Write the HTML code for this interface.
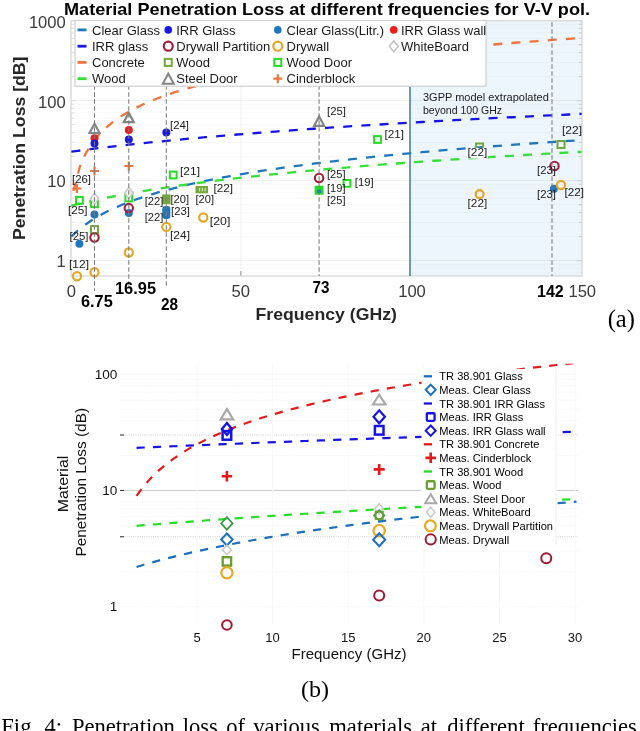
<!DOCTYPE html>
<html><head><meta charset="utf-8"><style>
html,body{margin:0;padding:0;background:#fff;width:640px;height:731px;overflow:hidden}
svg{display:block;filter:blur(0.4px)}
</style></head><body>
<svg width="640" height="731" viewBox="0 0 640 731">
<rect width="640" height="731" fill="#fff"/>
<rect x="410" y="20.8" width="172.0" height="255.2" fill="#edf5fd"/>
<line x1="71.0" x2="582.0" y1="260.60" y2="260.60" stroke="#000" stroke-opacity="0.065" stroke-width="1"/>
<line x1="71.0" x2="582.0" y1="236.52" y2="236.52" stroke="#000" stroke-opacity="0.03" stroke-width="1"/>
<line x1="71.0" x2="582.0" y1="222.43" y2="222.43" stroke="#000" stroke-opacity="0.03" stroke-width="1"/>
<line x1="71.0" x2="582.0" y1="212.44" y2="212.44" stroke="#000" stroke-opacity="0.03" stroke-width="1"/>
<line x1="71.0" x2="582.0" y1="204.68" y2="204.68" stroke="#000" stroke-opacity="0.03" stroke-width="1"/>
<line x1="71.0" x2="582.0" y1="198.35" y2="198.35" stroke="#000" stroke-opacity="0.03" stroke-width="1"/>
<line x1="71.0" x2="582.0" y1="192.99" y2="192.99" stroke="#000" stroke-opacity="0.03" stroke-width="1"/>
<line x1="71.0" x2="582.0" y1="188.35" y2="188.35" stroke="#000" stroke-opacity="0.03" stroke-width="1"/>
<line x1="71.0" x2="582.0" y1="184.26" y2="184.26" stroke="#000" stroke-opacity="0.03" stroke-width="1"/>
<line x1="71.0" x2="582.0" y1="180.60" y2="180.60" stroke="#000" stroke-opacity="0.065" stroke-width="1"/>
<line x1="71.0" x2="582.0" y1="156.52" y2="156.52" stroke="#000" stroke-opacity="0.03" stroke-width="1"/>
<line x1="71.0" x2="582.0" y1="142.43" y2="142.43" stroke="#000" stroke-opacity="0.03" stroke-width="1"/>
<line x1="71.0" x2="582.0" y1="132.44" y2="132.44" stroke="#000" stroke-opacity="0.03" stroke-width="1"/>
<line x1="71.0" x2="582.0" y1="124.68" y2="124.68" stroke="#000" stroke-opacity="0.03" stroke-width="1"/>
<line x1="71.0" x2="582.0" y1="118.35" y2="118.35" stroke="#000" stroke-opacity="0.03" stroke-width="1"/>
<line x1="71.0" x2="582.0" y1="112.99" y2="112.99" stroke="#000" stroke-opacity="0.03" stroke-width="1"/>
<line x1="71.0" x2="582.0" y1="108.35" y2="108.35" stroke="#000" stroke-opacity="0.03" stroke-width="1"/>
<line x1="71.0" x2="582.0" y1="104.26" y2="104.26" stroke="#000" stroke-opacity="0.03" stroke-width="1"/>
<line x1="71.0" x2="582.0" y1="100.60" y2="100.60" stroke="#000" stroke-opacity="0.065" stroke-width="1"/>
<line x1="71.0" x2="582.0" y1="76.52" y2="76.52" stroke="#000" stroke-opacity="0.03" stroke-width="1"/>
<line x1="71.0" x2="582.0" y1="62.43" y2="62.43" stroke="#000" stroke-opacity="0.03" stroke-width="1"/>
<line x1="71.0" x2="582.0" y1="52.44" y2="52.44" stroke="#000" stroke-opacity="0.03" stroke-width="1"/>
<line x1="71.0" x2="582.0" y1="44.68" y2="44.68" stroke="#000" stroke-opacity="0.03" stroke-width="1"/>
<line x1="71.0" x2="582.0" y1="38.35" y2="38.35" stroke="#000" stroke-opacity="0.03" stroke-width="1"/>
<line x1="71.0" x2="582.0" y1="32.99" y2="32.99" stroke="#000" stroke-opacity="0.03" stroke-width="1"/>
<line x1="71.0" x2="582.0" y1="28.35" y2="28.35" stroke="#000" stroke-opacity="0.03" stroke-width="1"/>
<line x1="71.0" x2="582.0" y1="24.26" y2="24.26" stroke="#000" stroke-opacity="0.03" stroke-width="1"/>
<line x1="71.0" x2="582.0" y1="272.99" y2="272.99" stroke="#000" stroke-opacity="0.03" stroke-width="1"/>
<line x1="71.0" x2="582.0" y1="268.35" y2="268.35" stroke="#000" stroke-opacity="0.03" stroke-width="1"/>
<line x1="71.0" x2="582.0" y1="264.26" y2="264.26" stroke="#000" stroke-opacity="0.03" stroke-width="1"/>
<line x1="240.90" x2="240.90" y1="20.8" y2="276.0" stroke="#efefef" stroke-width="0.8"/>
<line x1="240.90" x2="240.90" y1="271.0" y2="276.0" stroke="#909090" stroke-width="1"/>
<rect x="71.0" y="20.8" width="511.0" height="255.2" fill="none" stroke="#d4d4d4" stroke-width="1.2"/>
<line x1="71.0" x2="76.0" y1="260.60" y2="260.60" stroke="#d8d8d8" stroke-width="0.8"/>
<line x1="582.0" x2="577.0" y1="260.60" y2="260.60" stroke="#c8c8c8" stroke-width="0.8"/>
<line x1="71.0" x2="74.0" y1="236.52" y2="236.52" stroke="#d8d8d8" stroke-width="0.8"/>
<line x1="582.0" x2="579.0" y1="236.52" y2="236.52" stroke="#c8c8c8" stroke-width="0.8"/>
<line x1="71.0" x2="74.0" y1="222.43" y2="222.43" stroke="#d8d8d8" stroke-width="0.8"/>
<line x1="582.0" x2="579.0" y1="222.43" y2="222.43" stroke="#c8c8c8" stroke-width="0.8"/>
<line x1="71.0" x2="74.0" y1="212.44" y2="212.44" stroke="#d8d8d8" stroke-width="0.8"/>
<line x1="582.0" x2="579.0" y1="212.44" y2="212.44" stroke="#c8c8c8" stroke-width="0.8"/>
<line x1="71.0" x2="74.0" y1="204.68" y2="204.68" stroke="#d8d8d8" stroke-width="0.8"/>
<line x1="582.0" x2="579.0" y1="204.68" y2="204.68" stroke="#c8c8c8" stroke-width="0.8"/>
<line x1="71.0" x2="74.0" y1="198.35" y2="198.35" stroke="#d8d8d8" stroke-width="0.8"/>
<line x1="582.0" x2="579.0" y1="198.35" y2="198.35" stroke="#c8c8c8" stroke-width="0.8"/>
<line x1="71.0" x2="74.0" y1="192.99" y2="192.99" stroke="#d8d8d8" stroke-width="0.8"/>
<line x1="582.0" x2="579.0" y1="192.99" y2="192.99" stroke="#c8c8c8" stroke-width="0.8"/>
<line x1="71.0" x2="74.0" y1="188.35" y2="188.35" stroke="#d8d8d8" stroke-width="0.8"/>
<line x1="582.0" x2="579.0" y1="188.35" y2="188.35" stroke="#c8c8c8" stroke-width="0.8"/>
<line x1="71.0" x2="74.0" y1="184.26" y2="184.26" stroke="#d8d8d8" stroke-width="0.8"/>
<line x1="582.0" x2="579.0" y1="184.26" y2="184.26" stroke="#c8c8c8" stroke-width="0.8"/>
<line x1="71.0" x2="76.0" y1="180.60" y2="180.60" stroke="#d8d8d8" stroke-width="0.8"/>
<line x1="582.0" x2="577.0" y1="180.60" y2="180.60" stroke="#c8c8c8" stroke-width="0.8"/>
<line x1="71.0" x2="74.0" y1="156.52" y2="156.52" stroke="#d8d8d8" stroke-width="0.8"/>
<line x1="582.0" x2="579.0" y1="156.52" y2="156.52" stroke="#c8c8c8" stroke-width="0.8"/>
<line x1="71.0" x2="74.0" y1="142.43" y2="142.43" stroke="#d8d8d8" stroke-width="0.8"/>
<line x1="582.0" x2="579.0" y1="142.43" y2="142.43" stroke="#c8c8c8" stroke-width="0.8"/>
<line x1="71.0" x2="74.0" y1="132.44" y2="132.44" stroke="#d8d8d8" stroke-width="0.8"/>
<line x1="582.0" x2="579.0" y1="132.44" y2="132.44" stroke="#c8c8c8" stroke-width="0.8"/>
<line x1="71.0" x2="74.0" y1="124.68" y2="124.68" stroke="#d8d8d8" stroke-width="0.8"/>
<line x1="582.0" x2="579.0" y1="124.68" y2="124.68" stroke="#c8c8c8" stroke-width="0.8"/>
<line x1="71.0" x2="74.0" y1="118.35" y2="118.35" stroke="#d8d8d8" stroke-width="0.8"/>
<line x1="582.0" x2="579.0" y1="118.35" y2="118.35" stroke="#c8c8c8" stroke-width="0.8"/>
<line x1="71.0" x2="74.0" y1="112.99" y2="112.99" stroke="#d8d8d8" stroke-width="0.8"/>
<line x1="582.0" x2="579.0" y1="112.99" y2="112.99" stroke="#c8c8c8" stroke-width="0.8"/>
<line x1="71.0" x2="74.0" y1="108.35" y2="108.35" stroke="#d8d8d8" stroke-width="0.8"/>
<line x1="582.0" x2="579.0" y1="108.35" y2="108.35" stroke="#c8c8c8" stroke-width="0.8"/>
<line x1="71.0" x2="74.0" y1="104.26" y2="104.26" stroke="#d8d8d8" stroke-width="0.8"/>
<line x1="582.0" x2="579.0" y1="104.26" y2="104.26" stroke="#c8c8c8" stroke-width="0.8"/>
<line x1="71.0" x2="76.0" y1="100.60" y2="100.60" stroke="#d8d8d8" stroke-width="0.8"/>
<line x1="582.0" x2="577.0" y1="100.60" y2="100.60" stroke="#c8c8c8" stroke-width="0.8"/>
<line x1="71.0" x2="74.0" y1="76.52" y2="76.52" stroke="#d8d8d8" stroke-width="0.8"/>
<line x1="582.0" x2="579.0" y1="76.52" y2="76.52" stroke="#c8c8c8" stroke-width="0.8"/>
<line x1="71.0" x2="74.0" y1="62.43" y2="62.43" stroke="#d8d8d8" stroke-width="0.8"/>
<line x1="582.0" x2="579.0" y1="62.43" y2="62.43" stroke="#c8c8c8" stroke-width="0.8"/>
<line x1="71.0" x2="74.0" y1="52.44" y2="52.44" stroke="#d8d8d8" stroke-width="0.8"/>
<line x1="582.0" x2="579.0" y1="52.44" y2="52.44" stroke="#c8c8c8" stroke-width="0.8"/>
<line x1="71.0" x2="74.0" y1="44.68" y2="44.68" stroke="#d8d8d8" stroke-width="0.8"/>
<line x1="582.0" x2="579.0" y1="44.68" y2="44.68" stroke="#c8c8c8" stroke-width="0.8"/>
<line x1="71.0" x2="74.0" y1="38.35" y2="38.35" stroke="#d8d8d8" stroke-width="0.8"/>
<line x1="582.0" x2="579.0" y1="38.35" y2="38.35" stroke="#c8c8c8" stroke-width="0.8"/>
<line x1="71.0" x2="74.0" y1="32.99" y2="32.99" stroke="#d8d8d8" stroke-width="0.8"/>
<line x1="582.0" x2="579.0" y1="32.99" y2="32.99" stroke="#c8c8c8" stroke-width="0.8"/>
<line x1="71.0" x2="74.0" y1="28.35" y2="28.35" stroke="#d8d8d8" stroke-width="0.8"/>
<line x1="582.0" x2="579.0" y1="28.35" y2="28.35" stroke="#c8c8c8" stroke-width="0.8"/>
<line x1="71.0" x2="74.0" y1="24.26" y2="24.26" stroke="#d8d8d8" stroke-width="0.8"/>
<line x1="582.0" x2="579.0" y1="24.26" y2="24.26" stroke="#c8c8c8" stroke-width="0.8"/>
<line x1="410" x2="410" y1="20.8" y2="276.0" stroke="#4b7fa6" stroke-width="1.6"/>
<path d="M71.40,236.52 L77.78,230.53 L84.15,225.42 L90.53,220.97 L96.91,217.02 L103.29,213.48 L109.66,210.27 L116.04,207.33 L122.42,204.61 L128.80,202.10 L135.17,199.75 L141.55,197.55 L147.93,195.49 L154.31,193.54 L160.68,191.69 L167.06,189.94 L173.44,188.27 L179.82,186.67 L186.19,185.15 L192.57,183.69 L198.95,182.29 L205.33,180.94 L211.70,179.65 L218.08,178.40 L224.46,177.19 L230.84,176.03 L237.21,174.90 L243.59,173.81 L249.97,172.75 L256.35,171.72 L262.72,170.72 L269.10,169.75 L275.48,168.81 L281.86,167.89 L288.23,167.00 L294.61,166.12 L300.99,165.27 L307.37,164.44 L313.74,163.63 L320.12,162.84 L326.50,162.06 L332.87,161.30 L339.25,160.56 L345.63,159.83 L352.01,159.12 L358.38,158.43 L364.76,157.74 L371.14,157.07 L377.52,156.41 L383.89,155.77 L390.27,155.13 L396.65,154.51 L403.03,153.90 L409.40,153.30 L415.78,152.71 L422.16,152.13 L428.54,151.56 L434.91,150.99 L441.29,150.44 L447.67,149.90 L454.05,149.36 L460.42,148.83 L466.80,148.31 L473.18,147.80 L479.56,147.30 L485.93,146.80 L492.31,146.31 L498.69,145.82 L505.07,145.35 L511.44,144.88 L517.82,144.41 L524.20,143.95 L530.58,143.50 L536.95,143.05 L543.33,142.61 L549.71,142.18 L556.09,141.75 L562.46,141.32 L568.84,140.90 L575.22,140.49 L581.60,140.08" fill="none" stroke="#1f77c0" stroke-width="2.3" stroke-dasharray="9 9.2"/>
<path d="M71.40,151.66 L77.78,150.82 L84.15,150.00 L90.53,149.19 L96.91,148.41 L103.29,147.64 L109.66,146.89 L116.04,146.15 L122.42,145.43 L128.80,144.73 L135.17,144.04 L141.55,143.36 L147.93,142.69 L154.31,142.04 L160.68,141.40 L167.06,140.77 L173.44,140.16 L179.82,139.55 L186.19,138.95 L192.57,138.37 L198.95,137.79 L205.33,137.22 L211.70,136.66 L218.08,136.11 L224.46,135.57 L230.84,135.04 L237.21,134.52 L243.59,134.00 L249.97,133.49 L256.35,132.99 L262.72,132.49 L269.10,132.01 L275.48,131.53 L281.86,131.05 L288.23,130.58 L294.61,130.12 L300.99,129.67 L307.37,129.22 L313.74,128.77 L320.12,128.33 L326.50,127.90 L332.87,127.47 L339.25,127.05 L345.63,126.63 L352.01,126.22 L358.38,125.81 L364.76,125.41 L371.14,125.01 L377.52,124.62 L383.89,124.23 L390.27,123.85 L396.65,123.46 L403.03,123.09 L409.40,122.72 L415.78,122.35 L422.16,121.98 L428.54,121.62 L434.91,121.26 L441.29,120.91 L447.67,120.56 L454.05,120.21 L460.42,119.87 L466.80,119.53 L473.18,119.19 L479.56,118.86 L485.93,118.53 L492.31,118.20 L498.69,117.88 L505.07,117.56 L511.44,117.24 L517.82,116.93 L524.20,116.61 L530.58,116.30 L536.95,116.00 L543.33,115.69 L549.71,115.39 L556.09,115.09 L562.46,114.80 L568.84,114.50 L575.22,114.21 L581.60,113.92" fill="none" stroke="#1414e6" stroke-width="2.3" stroke-dasharray="9 9.2"/>
<path d="M71.40,205.74 L77.78,204.16 L84.15,202.65 L90.53,201.20 L96.91,199.81 L103.29,198.47 L109.66,197.18 L116.04,195.94 L122.42,194.74 L128.80,193.58 L135.17,192.46 L141.55,191.38 L147.93,190.32 L154.31,189.30 L160.68,188.31 L167.06,187.34 L173.44,186.40 L179.82,185.49 L186.19,184.60 L192.57,183.73 L198.95,182.88 L205.33,182.05 L211.70,181.24 L218.08,180.45 L224.46,179.68 L230.84,178.93 L237.21,178.19 L243.59,177.46 L249.97,176.75 L256.35,176.06 L262.72,175.38 L269.10,174.71 L275.48,174.05 L281.86,173.41 L288.23,172.78 L294.61,172.16 L300.99,171.55 L307.37,170.95 L313.74,170.36 L320.12,169.78 L326.50,169.21 L332.87,168.65 L339.25,168.10 L345.63,167.55 L352.01,167.02 L358.38,166.49 L364.76,165.97 L371.14,165.46 L377.52,164.96 L383.89,164.46 L390.27,163.97 L396.65,163.49 L403.03,163.01 L409.40,162.54 L415.78,162.08 L422.16,161.62 L428.54,161.17 L434.91,160.73 L441.29,160.29 L447.67,159.85 L454.05,159.42 L460.42,159.00 L466.80,158.58 L473.18,158.17 L479.56,157.76 L485.93,157.35 L492.31,156.96 L498.69,156.56 L505.07,156.17 L511.44,155.78 L517.82,155.40 L524.20,155.02 L530.58,154.65 L536.95,154.28 L543.33,153.92 L549.71,153.55 L556.09,153.20 L562.46,152.84 L568.84,152.49 L575.22,152.14 L581.60,151.80" fill="none" stroke="#33e033" stroke-width="2.3" stroke-dasharray="9 9.2"/>
<path d="M73.43,191.06 L79.79,166.76 L86.14,152.60 L92.49,142.56 L98.84,134.79 L105.19,128.44 L111.55,123.07 L117.90,118.43 L124.25,114.33 L130.60,110.66 L136.95,107.35 L143.31,104.32 L149.66,101.54 L156.01,98.96 L162.36,96.56 L168.71,94.32 L175.07,92.21 L181.42,90.22 L187.77,88.34 L194.12,86.56 L200.47,84.86 L206.83,83.24 L213.18,81.70 L219.53,80.22 L225.88,78.80 L232.23,77.44 L238.59,76.13 L244.94,74.86 L251.29,73.64 L257.64,72.46 L263.99,71.32 L270.35,70.22 L276.70,69.15 L283.05,68.11 L289.40,67.11 L295.75,66.13 L302.11,65.17 L308.46,64.25 L314.81,63.34 L321.16,62.46 L327.51,61.61 L333.87,60.77 L340.22,59.95 L346.57,59.15 L352.92,58.37 L359.27,57.61 L365.63,56.86 L371.98,56.13 L378.33,55.41 L384.68,54.71 L391.03,54.02 L397.39,53.35 L403.74,52.68 L410.09,52.03 L416.44,51.40 L422.79,50.77 L429.15,50.16 L435.50,49.55 L441.85,48.96 L448.20,48.37 L454.55,47.80 L460.91,47.23 L467.26,46.68 L473.61,46.13 L479.96,45.59 L486.31,45.06 L492.67,44.54 L499.02,44.02 L505.37,43.52 L511.72,43.02 L518.07,42.52 L524.43,42.04 L530.78,41.56 L537.13,41.09 L543.48,40.62 L549.83,40.16 L556.19,39.70 L562.54,39.26 L568.89,38.81 L575.24,38.38 L581.60,37.94" fill="none" stroke="#f0743c" stroke-width="2.3" stroke-dasharray="9 9.2"/>
<path d="M89.50,133.00 L94.50,123.80 L99.50,133.00 Z" fill="none" stroke="#858585" stroke-width="2.2" stroke-linejoin="miter"/>
<path d="M123.80,122.10 L128.80,112.90 L133.80,122.10 Z" fill="none" stroke="#858585" stroke-width="2.2" stroke-linejoin="miter"/>
<path d="M314.10,125.80 L319.10,116.60 L324.10,125.80 Z" fill="none" stroke="#858585" stroke-width="2.2" stroke-linejoin="miter"/>
<circle cx="94.50" cy="138.30" r="4.0" fill="#ee1c1c"/>
<circle cx="128.80" cy="130.00" r="4.0" fill="#ee1c1c"/>
<circle cx="94.50" cy="143.40" r="4.0" fill="#1a1ae6"/>
<circle cx="128.80" cy="139.40" r="4.0" fill="#1a1ae6"/>
<circle cx="166.30" cy="132.50" r="4.0" fill="#1a1ae6"/>
<path d="M72.40,188.50 H81.40 M76.90,184.00 V193.00" stroke="#f0743c" stroke-width="2.2" fill="none"/>
<path d="M90.00,171.00 H99.00 M94.50,166.50 V175.50" stroke="#f0743c" stroke-width="2.2" fill="none"/>
<path d="M124.30,166.00 H133.30 M128.80,161.50 V170.50" stroke="#f0743c" stroke-width="2.2" fill="none"/>
<rect x="76.00" y="196.90" width="6.8" height="6.8" fill="none" stroke="#22dd22" stroke-width="2.0"/>
<rect x="91.10" y="200.35" width="6.8" height="6.8" fill="none" stroke="#22dd22" stroke-width="2.0"/>
<rect x="125.40" y="194.60" width="6.8" height="6.8" fill="none" stroke="#22dd22" stroke-width="2.0"/>
<rect x="169.80" y="171.60" width="6.8" height="6.8" fill="none" stroke="#22dd22" stroke-width="2.0"/>
<rect x="343.60" y="180.00" width="6.8" height="6.8" fill="none" stroke="#22dd22" stroke-width="2.0"/>
<rect x="374.10" y="136.10" width="6.8" height="6.8" fill="none" stroke="#22dd22" stroke-width="2.0"/>
<rect x="315.60" y="186.70" width="7.0" height="7.0" fill="#22dd22" stroke="#22dd22" stroke-width="2.0"/>
<rect x="91.00" y="226.10" width="7.0" height="7.0" fill="none" stroke="#74a83c" stroke-width="2.0"/>
<rect x="476.10" y="143.50" width="7.0" height="7.0" fill="none" stroke="#74a83c" stroke-width="2.0"/>
<rect x="557.50" y="141.00" width="7.0" height="7.0" fill="none" stroke="#74a83c" stroke-width="2.0"/>
<rect x="162.10" y="194.4" width="8.5" height="9.8" fill="#74a83c"/>
<rect x="195.5" y="186" width="12.5" height="7.3" fill="#74a83c"/>
<rect x="199" y="188" width="1.2" height="3.3" fill="#cfe3b5"/>
<rect x="201.8" y="188" width="1.2" height="3.3" fill="#cfe3b5"/>
<rect x="204.6" y="188" width="1.2" height="3.3" fill="#cfe3b5"/>
<circle cx="79.40" cy="243.75" r="4.0" fill="#1f77c0"/>
<circle cx="94.50" cy="214.40" r="4.0" fill="#1f77c0"/>
<circle cx="128.80" cy="213.00" r="4.0" fill="#1f77c0"/>
<circle cx="553.90" cy="188.75" r="4.0" fill="#1f77c0"/>
<rect x="162.30" y="206" width="8" height="13" rx="3" fill="#1f77c0"/>
<circle cx="319.10" cy="191.50" r="2.2" fill="#1f77c0"/>
<circle cx="94.50" cy="237.50" r="4.2" fill="none" stroke="#a3203a" stroke-width="2.1"/>
<circle cx="128.80" cy="208.10" r="4.2" fill="none" stroke="#a3203a" stroke-width="2.1"/>
<circle cx="319.10" cy="178.00" r="4.2" fill="none" stroke="#a3203a" stroke-width="2.1"/>
<circle cx="554.50" cy="166.00" r="4.2" fill="none" stroke="#a3203a" stroke-width="2.1"/>
<path d="M94.50,193.15 L98.70,198.75 L94.50,204.35 L90.30,198.75 Z" fill="#f4f4f4" stroke="#c8c8c8" stroke-width="1.5"/>
<path d="M128.80,187.40 L133.00,193.00 L128.80,198.60 L124.60,193.00 Z" fill="#f4f4f4" stroke="#c8c8c8" stroke-width="1.5"/>
<circle cx="77.00" cy="276.25" r="4.1" fill="none" stroke="#e6a623" stroke-width="2.2"/>
<circle cx="94.50" cy="272.30" r="4.1" fill="none" stroke="#e6a623" stroke-width="2.2"/>
<circle cx="128.80" cy="252.50" r="4.1" fill="none" stroke="#e6a623" stroke-width="2.2"/>
<circle cx="166.30" cy="226.90" r="4.1" fill="none" stroke="#e6a623" stroke-width="2.2"/>
<circle cx="203.30" cy="217.50" r="4.1" fill="none" stroke="#e6a623" stroke-width="2.2"/>
<circle cx="561.00" cy="185.00" r="4.1" fill="none" stroke="#e6a623" stroke-width="2.2"/>
<line x1="94.50" x2="94.50" y1="22.3" y2="291" stroke="#7a7a7a" stroke-width="1.05" stroke-dasharray="4.5 2.5"/>
<line x1="128.80" x2="128.80" y1="22.3" y2="289" stroke="#7a7a7a" stroke-width="1.05" stroke-dasharray="4.5 2.5"/>
<line x1="166.30" x2="166.30" y1="22.3" y2="287.5" stroke="#7a7a7a" stroke-width="1.05" stroke-dasharray="4.5 2.5"/>
<line x1="319.10" x2="319.10" y1="22.3" y2="276.0" stroke="#7a7a7a" stroke-width="1.05" stroke-dasharray="4.5 2.5"/>
<line x1="552.00" x2="552.00" y1="22.3" y2="276.0" stroke="#7a7a7a" stroke-width="1.05" stroke-dasharray="4.5 2.5"/>
<text x="170.00" y="128.50" font-size="11.5" text-anchor="start" font-weight="normal" fill="#1a1a1a" font-family='"Liberation Sans", sans-serif' textLength="19.00" lengthAdjust="spacingAndGlyphs" >[24]</text>
<text x="72.00" y="183.20" font-size="11.5" text-anchor="start" font-weight="normal" fill="#1a1a1a" font-family='"Liberation Sans", sans-serif' textLength="19.00" lengthAdjust="spacingAndGlyphs" >[26]</text>
<text x="68.00" y="214.40" font-size="11.5" text-anchor="start" font-weight="normal" fill="#1a1a1a" font-family='"Liberation Sans", sans-serif' textLength="19.50" lengthAdjust="spacingAndGlyphs" >[25]</text>
<text x="69.50" y="240.00" font-size="11.5" text-anchor="start" font-weight="normal" fill="#1a1a1a" font-family='"Liberation Sans", sans-serif' textLength="19.00" lengthAdjust="spacingAndGlyphs" >[25]</text>
<text x="69.00" y="268.00" font-size="11.5" text-anchor="start" font-weight="normal" fill="#1a1a1a" font-family='"Liberation Sans", sans-serif' textLength="20.00" lengthAdjust="spacingAndGlyphs" >[12]</text>
<text x="180.00" y="174.80" font-size="11.5" text-anchor="start" font-weight="normal" fill="#1a1a1a" font-family='"Liberation Sans", sans-serif' textLength="20.00" lengthAdjust="spacingAndGlyphs" >[21]</text>
<text x="213.40" y="192.40" font-size="11.5" text-anchor="start" font-weight="normal" fill="#1a1a1a" font-family='"Liberation Sans", sans-serif' textLength="19.60" lengthAdjust="spacingAndGlyphs" >[22]</text>
<text x="195.50" y="202.55" font-size="11.5" text-anchor="start" font-weight="normal" fill="#1a1a1a" font-family='"Liberation Sans", sans-serif' textLength="18.50" lengthAdjust="spacingAndGlyphs" >[20]</text>
<text x="144.70" y="204.80" font-size="11.5" text-anchor="start" font-weight="normal" fill="#1a1a1a" font-family='"Liberation Sans", sans-serif' textLength="18.70" lengthAdjust="spacingAndGlyphs" >[22]</text>
<text x="170.50" y="202.55" font-size="11.5" text-anchor="start" font-weight="normal" fill="#1a1a1a" font-family='"Liberation Sans", sans-serif' textLength="18.70" lengthAdjust="spacingAndGlyphs" >[20]</text>
<text x="171.00" y="215.05" font-size="11.5" text-anchor="start" font-weight="normal" fill="#1a1a1a" font-family='"Liberation Sans", sans-serif' textLength="19.00" lengthAdjust="spacingAndGlyphs" >[23]</text>
<text x="144.70" y="221.30" font-size="11.5" text-anchor="start" font-weight="normal" fill="#1a1a1a" font-family='"Liberation Sans", sans-serif' textLength="18.70" lengthAdjust="spacingAndGlyphs" >[22]</text>
<text x="209.80" y="224.80" font-size="11.5" text-anchor="start" font-weight="normal" fill="#1a1a1a" font-family='"Liberation Sans", sans-serif' textLength="20.50" lengthAdjust="spacingAndGlyphs" >[20]</text>
<text x="170.00" y="238.50" font-size="11.5" text-anchor="start" font-weight="normal" fill="#1a1a1a" font-family='"Liberation Sans", sans-serif' textLength="20.00" lengthAdjust="spacingAndGlyphs" >[24]</text>
<text x="327.00" y="114.80" font-size="11.5" text-anchor="start" font-weight="normal" fill="#1a1a1a" font-family='"Liberation Sans", sans-serif' textLength="19.00" lengthAdjust="spacingAndGlyphs" >[25]</text>
<text x="384.50" y="137.55" font-size="11.5" text-anchor="start" font-weight="normal" fill="#1a1a1a" font-family='"Liberation Sans", sans-serif' textLength="19.50" lengthAdjust="spacingAndGlyphs" >[21]</text>
<text x="327.00" y="178.20" font-size="11.5" text-anchor="start" font-weight="normal" fill="#1a1a1a" font-family='"Liberation Sans", sans-serif' textLength="18.50" lengthAdjust="spacingAndGlyphs" >[25]</text>
<text x="327.00" y="191.80" font-size="11.5" text-anchor="start" font-weight="normal" fill="#1a1a1a" font-family='"Liberation Sans", sans-serif' textLength="18.50" lengthAdjust="spacingAndGlyphs" >[19]</text>
<text x="354.80" y="185.70" font-size="11.5" text-anchor="start" font-weight="normal" fill="#1a1a1a" font-family='"Liberation Sans", sans-serif' textLength="18.80" lengthAdjust="spacingAndGlyphs" >[19]</text>
<text x="327.00" y="203.60" font-size="11.5" text-anchor="start" font-weight="normal" fill="#1a1a1a" font-family='"Liberation Sans", sans-serif' textLength="18.50" lengthAdjust="spacingAndGlyphs" >[25]</text>
<text x="562.00" y="134.30" font-size="11.5" text-anchor="start" font-weight="normal" fill="#1a1a1a" font-family='"Liberation Sans", sans-serif' textLength="20.00" lengthAdjust="spacingAndGlyphs" >[22]</text>
<text x="537.00" y="173.80" font-size="11.5" text-anchor="start" font-weight="normal" fill="#1a1a1a" font-family='"Liberation Sans", sans-serif' textLength="19.00" lengthAdjust="spacingAndGlyphs" >[23]</text>
<text x="564.50" y="196.30" font-size="11.5" text-anchor="start" font-weight="normal" fill="#1a1a1a" font-family='"Liberation Sans", sans-serif' textLength="19.50" lengthAdjust="spacingAndGlyphs" >[22]</text>
<text x="537.00" y="197.55" font-size="11.5" text-anchor="start" font-weight="normal" fill="#1a1a1a" font-family='"Liberation Sans", sans-serif' textLength="19.00" lengthAdjust="spacingAndGlyphs" >[23]</text>
<rect x="467.1" y="147.9" width="20.69999999999999" height="10.6" fill="#fafcfe"/>
<text x="467.60" y="156.30" font-size="11.5" text-anchor="start" font-weight="normal" fill="#1a1a1a" font-family='"Liberation Sans", sans-serif' textLength="19.70" lengthAdjust="spacingAndGlyphs" >[22]</text>
<rect x="467.1" y="198.8" width="20.69999999999999" height="10.6" fill="#fafcfe"/>
<text x="467.60" y="207.20" font-size="11.5" text-anchor="start" font-weight="normal" fill="#1a1a1a" font-family='"Liberation Sans", sans-serif' textLength="19.70" lengthAdjust="spacingAndGlyphs" >[22]</text>
<circle cx="479.60" cy="194.10" r="4.0" fill="none" stroke="#e6a623" stroke-width="2.2"/>
<text x="423.00" y="101.00" font-size="11" text-anchor="start" font-weight="normal" fill="#1a1a1a" font-family='"Liberation Sans", sans-serif' >3GPP model extrapolated</text>
<text x="423.00" y="113.50" font-size="11" text-anchor="start" font-weight="normal" fill="#1a1a1a" font-family='"Liberation Sans", sans-serif' textLength="79.00" lengthAdjust="spacingAndGlyphs" >beyond 100 GHz</text>
<rect x="75" y="20.5" width="411" height="65.75" fill="#ffffff" stroke="#cfcfcf" stroke-width="1.2"/>
<rect x="77.5" y="28.5" width="9" height="2.8" fill="#1f77c0"/>
<text x="92.00" y="34.50" font-size="13" text-anchor="start" font-weight="normal" fill="#1a1a1a" font-family='"Liberation Sans", sans-serif' >Clear Glass</text>
<rect x="77.5" y="44.800000000000004" width="9" height="2.8" fill="#1a1ae6"/>
<text x="92.00" y="50.80" font-size="13" text-anchor="start" font-weight="normal" fill="#1a1a1a" font-family='"Liberation Sans", sans-serif' >IRR glass</text>
<rect x="77.5" y="61.0" width="9" height="2.8" fill="#f0743c"/>
<text x="92.00" y="67.00" font-size="13" text-anchor="start" font-weight="normal" fill="#1a1a1a" font-family='"Liberation Sans", sans-serif' >Concrete</text>
<rect x="77.5" y="77.3" width="9" height="2.8" fill="#33e033"/>
<text x="92.00" y="83.30" font-size="13" text-anchor="start" font-weight="normal" fill="#1a1a1a" font-family='"Liberation Sans", sans-serif' >Wood</text>
<circle cx="168.25" cy="29.90" r="3.8" fill="#1a1ae6"/>
<text x="176.25" y="34.50" font-size="13" text-anchor="start" font-weight="normal" fill="#1a1a1a" font-family='"Liberation Sans", sans-serif' >IRR Glass</text>
<circle cx="168.25" cy="46.20" r="4.5" fill="none" stroke="#a3203a" stroke-width="2.2"/>
<text x="176.25" y="50.80" font-size="13" text-anchor="start" font-weight="normal" fill="#1a1a1a" font-family='"Liberation Sans", sans-serif' >Drywall Partition</text>
<rect x="164.75" y="58.90" width="7.0" height="7.0" fill="none" stroke="#74a83c" stroke-width="2.0"/>
<text x="176.25" y="67.00" font-size="13" text-anchor="start" font-weight="normal" fill="#1a1a1a" font-family='"Liberation Sans", sans-serif' >Wood</text>
<path d="M162.75,83.70 L168.25,73.70 L173.75,83.70 Z" fill="none" stroke="#858585" stroke-width="2.0" stroke-linejoin="miter"/>
<text x="176.25" y="83.30" font-size="13" text-anchor="start" font-weight="normal" fill="#1a1a1a" font-family='"Liberation Sans", sans-serif' >Steel Door</text>
<circle cx="277.80" cy="29.90" r="3.8" fill="#1f77c0"/>
<text x="286.50" y="34.50" font-size="13" text-anchor="start" font-weight="normal" fill="#1a1a1a" font-family='"Liberation Sans", sans-serif' >Clear Glass(Litr.)</text>
<circle cx="277.80" cy="46.20" r="4.5" fill="none" stroke="#e6a623" stroke-width="2.2"/>
<text x="286.50" y="50.80" font-size="13" text-anchor="start" font-weight="normal" fill="#1a1a1a" font-family='"Liberation Sans", sans-serif' >Drywall</text>
<rect x="274.30" y="58.90" width="7.0" height="7.0" fill="none" stroke="#22dd22" stroke-width="2.0"/>
<text x="286.50" y="67.00" font-size="13" text-anchor="start" font-weight="normal" fill="#1a1a1a" font-family='"Liberation Sans", sans-serif' >Wood Door</text>
<path d="M273.30,78.70 H282.30 M277.80,74.20 V83.20" stroke="#f0743c" stroke-width="2.2" fill="none"/>
<text x="286.50" y="83.30" font-size="13" text-anchor="start" font-weight="normal" fill="#1a1a1a" font-family='"Liberation Sans", sans-serif' >Cinderblock</text>
<circle cx="393.75" cy="29.90" r="3.8" fill="#ee1c1c"/>
<text x="401.00" y="34.50" font-size="13" text-anchor="start" font-weight="normal" fill="#1a1a1a" font-family='"Liberation Sans", sans-serif' >IRR Glass wall</text>
<path d="M393.75,40.70 L398.25,46.20 L393.75,51.70 L389.25,46.20 Z" fill="none" stroke="#c4c4c4" stroke-width="1.6"/>
<text x="401.00" y="50.80" font-size="13" text-anchor="start" font-weight="normal" fill="#1a1a1a" font-family='"Liberation Sans", sans-serif' >WhiteBoard</text>
<text x="64.00" y="14.60" font-size="17" text-anchor="start" font-weight="bold" fill="#000" font-family='"Liberation Sans", sans-serif' textLength="526.00" lengthAdjust="spacingAndGlyphs" >Material Penetration Loss at different frequencies for V-V pol.</text>
<text x="0" y="0" transform="translate(24.7,148.25) rotate(-90)" font-size="17.4" font-weight="bold" text-anchor="middle" fill="#262626" font-family='"Liberation Sans", sans-serif' textLength="183.5" lengthAdjust="spacingAndGlyphs">Penetration Loss [dB]</text>
<text x="65.80" y="28.00" font-size="16.6" text-anchor="end" font-weight="normal" fill="#3a3a3a" font-family='"Liberation Sans", sans-serif' >1000</text>
<text x="65.80" y="107.80" font-size="16.6" text-anchor="end" font-weight="normal" fill="#3a3a3a" font-family='"Liberation Sans", sans-serif' >100</text>
<text x="65.80" y="187.00" font-size="16.6" text-anchor="end" font-weight="normal" fill="#3a3a3a" font-family='"Liberation Sans", sans-serif' >10</text>
<text x="65.80" y="267.00" font-size="16.6" text-anchor="end" font-weight="normal" fill="#3a3a3a" font-family='"Liberation Sans", sans-serif' >1</text>
<text x="71.25" y="297.20" font-size="16.6" text-anchor="middle" font-weight="normal" fill="#3a3a3a" font-family='"Liberation Sans", sans-serif' >0</text>
<text x="240.75" y="297.20" font-size="16.6" text-anchor="middle" font-weight="normal" fill="#3a3a3a" font-family='"Liberation Sans", sans-serif' >50</text>
<text x="412.00" y="297.20" font-size="16.6" text-anchor="middle" font-weight="normal" fill="#3a3a3a" font-family='"Liberation Sans", sans-serif' >100</text>
<text x="582.25" y="297.20" font-size="16.6" text-anchor="middle" font-weight="normal" fill="#3a3a3a" font-family='"Liberation Sans", sans-serif' >150</text>
<text x="81.00" y="307.40" font-size="16" text-anchor="start" font-weight="bold" fill="#000" font-family='"Liberation Sans", sans-serif' textLength="31.70" lengthAdjust="spacingAndGlyphs" >6.75</text>
<text x="115.00" y="294.10" font-size="16" text-anchor="start" font-weight="bold" fill="#000" font-family='"Liberation Sans", sans-serif' textLength="41.00" lengthAdjust="spacingAndGlyphs" >16.95</text>
<text x="161.00" y="309.70" font-size="16" text-anchor="start" font-weight="bold" fill="#000" font-family='"Liberation Sans", sans-serif' textLength="17.00" lengthAdjust="spacingAndGlyphs" >28</text>
<text x="312.50" y="292.60" font-size="16" text-anchor="start" font-weight="bold" fill="#000" font-family='"Liberation Sans", sans-serif' textLength="16.90" lengthAdjust="spacingAndGlyphs" >73</text>
<text x="537.00" y="296.95" font-size="16" text-anchor="start" font-weight="bold" fill="#000" font-family='"Liberation Sans", sans-serif' textLength="26.75" lengthAdjust="spacingAndGlyphs" >142</text>
<text x="255.50" y="320.20" font-size="17" text-anchor="start" font-weight="bold" fill="#262626" font-family='"Liberation Sans", sans-serif' textLength="141.40" lengthAdjust="spacingAndGlyphs" >Frequency (GHz)</text>
<text x="607.70" y="326.50" font-size="24.5" text-anchor="start" font-weight="normal" fill="#000" font-family='"Liberation Serif", serif' >(a)</text>
<line x1="120.0" x2="578.0" y1="606.75" y2="606.75" stroke="#eeeeee" stroke-width="0.8" stroke-dasharray="1 1.2"/>
<line x1="120.0" x2="578.0" y1="571.76" y2="571.76" stroke="#eeeeee" stroke-width="0.8" stroke-dasharray="1 1.2"/>
<line x1="120.0" x2="578.0" y1="551.28" y2="551.28" stroke="#eeeeee" stroke-width="0.8" stroke-dasharray="1 1.2"/>
<line x1="120.0" x2="578.0" y1="536.76" y2="536.76" stroke="#c4c4c4" stroke-width="0.9" stroke-dasharray="1 1.2"/>
<line x1="120.0" x2="124.0" y1="536.76" y2="536.76" stroke="#333" stroke-width="1"/>
<line x1="120.0" x2="578.0" y1="525.49" y2="525.49" stroke="#eeeeee" stroke-width="0.8" stroke-dasharray="1 1.2"/>
<line x1="120.0" x2="578.0" y1="516.29" y2="516.29" stroke="#eeeeee" stroke-width="0.8" stroke-dasharray="1 1.2"/>
<line x1="120.0" x2="578.0" y1="508.51" y2="508.51" stroke="#eeeeee" stroke-width="0.8" stroke-dasharray="1 1.2"/>
<line x1="120.0" x2="578.0" y1="501.77" y2="501.77" stroke="#eeeeee" stroke-width="0.8" stroke-dasharray="1 1.2"/>
<line x1="120.0" x2="578.0" y1="495.82" y2="495.82" stroke="#eeeeee" stroke-width="0.8" stroke-dasharray="1 1.2"/>
<line x1="120.0" x2="578.0" y1="490.50" y2="490.50" stroke="#cdcdcd" stroke-width="1"/>
<line x1="120.0" x2="578.0" y1="455.51" y2="455.51" stroke="#eeeeee" stroke-width="0.8" stroke-dasharray="1 1.2"/>
<line x1="120.0" x2="578.0" y1="435.03" y2="435.03" stroke="#c4c4c4" stroke-width="0.9" stroke-dasharray="1 1.2"/>
<line x1="120.0" x2="124.0" y1="435.03" y2="435.03" stroke="#333" stroke-width="1"/>
<line x1="120.0" x2="578.0" y1="420.51" y2="420.51" stroke="#eeeeee" stroke-width="0.8" stroke-dasharray="1 1.2"/>
<line x1="120.0" x2="578.0" y1="409.24" y2="409.24" stroke="#eeeeee" stroke-width="0.8" stroke-dasharray="1 1.2"/>
<line x1="120.0" x2="578.0" y1="400.04" y2="400.04" stroke="#eeeeee" stroke-width="0.8" stroke-dasharray="1 1.2"/>
<line x1="120.0" x2="578.0" y1="392.26" y2="392.26" stroke="#eeeeee" stroke-width="0.8" stroke-dasharray="1 1.2"/>
<line x1="120.0" x2="578.0" y1="385.52" y2="385.52" stroke="#eeeeee" stroke-width="0.8" stroke-dasharray="1 1.2"/>
<line x1="120.0" x2="578.0" y1="379.57" y2="379.57" stroke="#eeeeee" stroke-width="0.8" stroke-dasharray="1 1.2"/>
<line x1="120.0" x2="578.0" y1="374.25" y2="374.25" stroke="#eeeeee" stroke-width="0.8" stroke-dasharray="1 1.2"/>
<line x1="197.00" x2="197.00" y1="363.75" y2="625.0" stroke="#f7f7f7" stroke-width="1"/>
<line x1="272.60" x2="272.60" y1="363.75" y2="625.0" stroke="#f7f7f7" stroke-width="1"/>
<line x1="348.20" x2="348.20" y1="363.75" y2="625.0" stroke="#f7f7f7" stroke-width="1"/>
<line x1="423.80" x2="423.80" y1="363.75" y2="625.0" stroke="#f7f7f7" stroke-width="1"/>
<line x1="499.40" x2="499.40" y1="363.75" y2="625.0" stroke="#f7f7f7" stroke-width="1"/>
<line x1="575.00" x2="575.00" y1="363.75" y2="625.0" stroke="#f7f7f7" stroke-width="1"/>
<line x1="120.0" x2="124.0" y1="490.50" y2="490.50" stroke="#333" stroke-width="1"/>
<clipPath id="bclip"><rect x="120.0" y="363.75" width="458.0" height="261.25"/></clipPath>
<g clip-path="url(#bclip)">
<path d="M136.52,566.94 L143.85,564.77 L151.19,562.68 L158.52,560.67 L165.85,558.74 L173.19,556.89 L180.52,555.09 L187.85,553.36 L195.19,551.69 L202.52,550.07 L209.85,548.50 L217.19,546.98 L224.52,545.50 L231.85,544.07 L239.18,542.67 L246.52,541.31 L253.85,539.99 L261.18,538.70 L268.52,537.45 L275.85,536.22 L283.18,535.02 L290.52,533.85 L297.85,532.71 L305.18,531.59 L312.52,530.50 L319.85,529.43 L327.18,528.38 L334.52,527.36 L341.85,526.35 L349.18,525.36 L356.52,524.40 L363.85,523.45 L371.18,522.51 L378.52,521.60 L385.85,520.70 L393.18,519.82 L400.52,518.95 L407.85,518.10 L415.18,517.26 L422.51,516.43 L429.85,515.62 L437.18,514.82 L444.51,514.04 L451.85,513.26 L459.18,512.50 L466.51,511.75 L473.85,511.01 L481.18,510.28 L488.51,509.56 L495.85,508.85 L503.18,508.15 L510.51,507.46 L517.85,506.78 L525.18,506.11 L532.51,505.44 L539.85,504.79 L547.18,504.14 L554.51,503.51 L561.85,502.88 L569.18,502.25 L576.51,501.64" fill="none" stroke="#1a6fc0" stroke-width="2.2" stroke-dasharray="8.2 8.2"/>
<path d="M136.52,447.79 L143.85,447.48 L151.19,447.17 L158.52,446.86 L165.85,446.55 L173.19,446.24 L180.52,445.94 L187.85,445.63 L195.19,445.33 L202.52,445.03 L209.85,444.74 L217.19,444.44 L224.52,444.15 L231.85,443.85 L239.18,443.56 L246.52,443.27 L253.85,442.99 L261.18,442.70 L268.52,442.42 L275.85,442.13 L283.18,441.85 L290.52,441.57 L297.85,441.30 L305.18,441.02 L312.52,440.74 L319.85,440.47 L327.18,440.20 L334.52,439.93 L341.85,439.66 L349.18,439.39 L356.52,439.13 L363.85,438.86 L371.18,438.60 L378.52,438.34 L385.85,438.07 L393.18,437.82 L400.52,437.56 L407.85,437.30 L415.18,437.04 L422.51,436.79 L429.85,436.54 L437.18,436.29 L444.51,436.04 L451.85,435.79 L459.18,435.54 L466.51,435.29 L473.85,435.05 L481.18,434.80 L488.51,434.56 L495.85,434.32 L503.18,434.08 L510.51,433.84 L517.85,433.60 L525.18,433.36 L532.51,433.12 L539.85,432.89 L547.18,432.65 L554.51,432.42 L561.85,432.19 L569.18,431.96 L576.51,431.73" fill="none" stroke="#1414e6" stroke-width="2.2" stroke-dasharray="8.2 8.2"/>
<path d="M136.52,525.80 L143.85,525.21 L151.19,524.63 L158.52,524.06 L165.85,523.49 L173.19,522.93 L180.52,522.37 L187.85,521.82 L195.19,521.28 L202.52,520.74 L209.85,520.21 L217.19,519.68 L224.52,519.16 L231.85,518.64 L239.18,518.13 L246.52,517.63 L253.85,517.13 L261.18,516.63 L268.52,516.14 L275.85,515.66 L283.18,515.17 L290.52,514.70 L297.85,514.23 L305.18,513.76 L312.52,513.29 L319.85,512.83 L327.18,512.38 L334.52,511.93 L341.85,511.48 L349.18,511.04 L356.52,510.60 L363.85,510.16 L371.18,509.73 L378.52,509.30 L385.85,508.88 L393.18,508.46 L400.52,508.04 L407.85,507.63 L415.18,507.21 L422.51,506.81 L429.85,506.40 L437.18,506.00 L444.51,505.60 L451.85,505.21 L459.18,504.82 L466.51,504.43 L473.85,504.04 L481.18,503.66 L488.51,503.28 L495.85,502.90 L503.18,502.53 L510.51,502.16 L517.85,501.79 L525.18,501.42 L532.51,501.06 L539.85,500.70 L547.18,500.34 L554.51,499.98 L561.85,499.63 L569.18,499.28 L576.51,498.93" fill="none" stroke="#22e022" stroke-width="2.2" stroke-dasharray="8.2 8.2"/>
<path d="M136.52,495.82 L143.85,485.96 L151.19,477.72 L158.52,470.64 L165.85,464.43 L173.19,458.90 L180.52,453.91 L187.85,449.38 L195.19,445.22 L202.52,441.37 L209.85,437.80 L217.19,434.47 L224.52,431.34 L231.85,428.39 L239.18,425.61 L246.52,422.97 L253.85,420.46 L261.18,418.07 L268.52,415.79 L275.85,413.61 L283.18,411.52 L290.52,409.51 L297.85,407.58 L305.18,405.72 L312.52,403.92 L319.85,402.19 L327.18,400.51 L334.52,398.89 L341.85,397.32 L349.18,395.80 L356.52,394.32 L363.85,392.88 L371.18,391.48 L378.52,390.12 L385.85,388.80 L393.18,387.51 L400.52,386.25 L407.85,385.03 L415.18,383.83 L422.51,382.66 L429.85,381.51 L437.18,380.40 L444.51,379.30 L451.85,378.23 L459.18,377.18 L466.51,376.15 L473.85,375.15 L481.18,374.16 L488.51,373.19 L495.85,372.24 L503.18,371.31 L510.51,370.39 L517.85,369.49 L525.18,368.61 L532.51,367.74 L539.85,366.89 L547.18,366.05 L554.51,365.22 L561.85,364.41 L569.18,363.61 L576.51,362.82" fill="none" stroke="#e41a1a" stroke-width="2.2" stroke-dasharray="8.2 8.2"/>
</g>
<path d="M220.60,419.45 L226.90,409.15 L233.20,419.45 Z" fill="none" stroke="#a8a8a8" stroke-width="2.2" stroke-linejoin="miter"/>
<path d="M226.90,423.00 L231.90,429.00 L226.90,435.00 L221.90,429.00 Z" fill="none" stroke="#1414e6" stroke-width="2.4"/>
<rect x="222.60" y="431.10" width="8.6" height="8.6" fill="none" stroke="#1414e6" stroke-width="2.5"/>
<path d="M221.65,476.20 H232.15 M226.90,470.95 V481.45" stroke="#e41a1a" stroke-width="2.6" fill="none"/>
<path d="M226.90,517.10 L232.65,523.40 L226.90,529.70 L221.15,523.40 Z" fill="none" stroke="#3a9a4a" stroke-width="1.8"/>
<path d="M226.90,533.50 L232.65,539.50 L226.90,545.50 L221.15,539.50 Z" fill="none" stroke="#1a6fc0" stroke-width="2.0"/>
<path d="M226.90,545.25 L231.55,549.90 L226.90,554.55 L222.25,549.90 Z" fill="none" stroke="#cacaca" stroke-width="1.6"/>
<rect x="222.70" y="557.20" width="8.4" height="8.4" fill="none" stroke="#6aa030" stroke-width="2.4"/>
<circle cx="226.90" cy="572.70" r="5.6" fill="none" stroke="#e8a820" stroke-width="2.2"/>
<circle cx="226.90" cy="625.00" r="4.8" fill="none" stroke="#a01830" stroke-width="2.0"/>
<path d="M372.90,404.50 L379.20,394.70 L385.50,404.50 Z" fill="none" stroke="#a8a8a8" stroke-width="2.2" stroke-linejoin="miter"/>
<path d="M379.20,410.30 L384.90,416.80 L379.20,423.30 L373.50,416.80 Z" fill="none" stroke="#1414e6" stroke-width="2.2"/>
<rect x="374.90" y="426.00" width="8.6" height="8.6" fill="none" stroke="#1414e6" stroke-width="2.5"/>
<path d="M373.70,469.40 H384.70 M379.20,463.90 V474.90" stroke="#e41a1a" stroke-width="2.6" fill="none"/>
<path d="M379.20,503.70 L383.50,508.70 L379.20,513.70 L374.90,508.70 Z" fill="none" stroke="#cacaca" stroke-width="1.6"/>
<path d="M379.20,510.15 L384.45,515.40 L379.20,520.65 L373.95,515.40 Z" fill="none" stroke="#3a9a4a" stroke-width="1.6"/>
<rect x="375.60" y="511.80" width="7.2" height="7.2" fill="none" stroke="#6aa030" stroke-width="1.8"/>
<circle cx="379.20" cy="530.70" r="5.7" fill="none" stroke="#e8a820" stroke-width="2.2"/>
<path d="M379.20,533.30 L385.20,539.80 L379.20,546.30 L373.20,539.80 Z" fill="none" stroke="#1a6fc0" stroke-width="2.0"/>
<circle cx="379.20" cy="595.60" r="5" fill="none" stroke="#a01830" stroke-width="2.0"/>
<circle cx="546.25" cy="558.25" r="5" fill="none" stroke="#a01830" stroke-width="2.0"/>
<rect x="421.5" y="369" width="135" height="176.5" fill="#fff"/>
<line x1="556" x2="556" y1="366" y2="545.5" stroke="#f0f0f0" stroke-width="1"/>
<rect x="423.8" y="375.15" width="8.2" height="2.3" fill="#1a6fc0"/>
<text transform="translate(439.25,380.45) scale(0.96,1)" x="0" y="0" font-size="11.6" fill="#000" font-family='"Liberation Sans", sans-serif'>TR 38.901 Glass</text>
<path d="M430.70,384.65 L435.70,389.85 L430.70,395.05 L425.70,389.85 Z" fill="none" stroke="#1a6fc0" stroke-width="2.0"/>
<text transform="translate(439.25,394.05) scale(0.96,1)" x="0" y="0" font-size="11.6" fill="#000" font-family='"Liberation Sans", sans-serif'>Meas. Clear Glass</text>
<rect x="423.8" y="402.35" width="8.2" height="2.3" fill="#1414e6"/>
<text transform="translate(439.25,407.65) scale(0.96,1)" x="0" y="0" font-size="11.6" fill="#000" font-family='"Liberation Sans", sans-serif'>TR 38.901 IRR Glass</text>
<rect x="426.80" y="413.25" width="7.8" height="7.6" rx="1" fill="none" stroke="#1414e6" stroke-width="2.3"/>
<text transform="translate(439.25,421.25) scale(0.96,1)" x="0" y="0" font-size="11.6" fill="#000" font-family='"Liberation Sans", sans-serif'>Meas. IRR Glass</text>
<path d="M430.70,425.45 L435.70,430.65 L430.70,435.85 L425.70,430.65 Z" fill="none" stroke="#1414e6" stroke-width="2.0"/>
<text transform="translate(439.25,434.85) scale(0.96,1)" x="0" y="0" font-size="11.6" fill="#000" font-family='"Liberation Sans", sans-serif'>Meas. IRR Glass wall</text>
<rect x="423.8" y="443.15" width="8.2" height="2.3" fill="#e41a1a"/>
<text transform="translate(439.25,448.45) scale(0.96,1)" x="0" y="0" font-size="11.6" fill="#000" font-family='"Liberation Sans", sans-serif'>TR 38.901 Concrete</text>
<path d="M425.45,457.85 H435.95 M430.70,452.60 V463.10" stroke="#e41a1a" stroke-width="2.6" fill="none"/>
<text transform="translate(439.25,462.05) scale(0.96,1)" x="0" y="0" font-size="11.6" fill="#000" font-family='"Liberation Sans", sans-serif'>Meas. Cinderblock</text>
<rect x="423.8" y="470.35" width="8.2" height="2.3" fill="#22e022"/>
<text transform="translate(439.25,475.65) scale(0.96,1)" x="0" y="0" font-size="11.6" fill="#000" font-family='"Liberation Sans", sans-serif'>TR 38.901 Wood</text>
<rect x="426.80" y="481.25" width="7.8" height="7.6" rx="1" fill="none" stroke="#6aa030" stroke-width="2.3"/>
<text transform="translate(439.25,489.25) scale(0.96,1)" x="0" y="0" font-size="11.6" fill="#000" font-family='"Liberation Sans", sans-serif'>Meas. Wood</text>
<path d="M425.20,503.15 L430.70,494.15 L436.20,503.15 Z" fill="none" stroke="#a8a8a8" stroke-width="2.0" stroke-linejoin="miter"/>
<text transform="translate(439.25,502.85) scale(0.96,1)" x="0" y="0" font-size="11.6" fill="#000" font-family='"Liberation Sans", sans-serif'>Meas. Steel Door</text>
<path d="M430.70,507.25 L434.90,512.25 L430.70,517.25 L426.50,512.25 Z" fill="none" stroke="#cacaca" stroke-width="1.5"/>
<text transform="translate(439.25,516.45) scale(0.96,1)" x="0" y="0" font-size="11.6" fill="#000" font-family='"Liberation Sans", sans-serif'>Meas. WhiteBoard</text>
<circle cx="430.40" cy="525.85" r="5.4" fill="none" stroke="#e8a820" stroke-width="2.2"/>
<text transform="translate(439.25,530.05) scale(0.96,1)" x="0" y="0" font-size="11.6" fill="#000" font-family='"Liberation Sans", sans-serif'>Meas. Drywall Partition</text>
<circle cx="430.70" cy="539.45" r="5.1" fill="none" stroke="#a01830" stroke-width="2.0"/>
<text transform="translate(439.25,543.65) scale(0.96,1)" x="0" y="0" font-size="11.6" fill="#000" font-family='"Liberation Sans", sans-serif'>Meas. Drywall</text>
<text x="117.40" y="378.90" font-size="13.6" text-anchor="end" font-weight="normal" fill="#111" font-family='"Liberation Sans", sans-serif' >100</text>
<text x="117.40" y="495.40" font-size="13.6" text-anchor="end" font-weight="normal" fill="#111" font-family='"Liberation Sans", sans-serif' >10</text>
<text x="117.40" y="611.40" font-size="13.6" text-anchor="end" font-weight="normal" fill="#111" font-family='"Liberation Sans", sans-serif' >1</text>
<text x="197.00" y="642.20" font-size="13" text-anchor="middle" font-weight="normal" fill="#111" font-family='"Liberation Sans", sans-serif' >5</text>
<text x="272.60" y="642.20" font-size="13" text-anchor="middle" font-weight="normal" fill="#111" font-family='"Liberation Sans", sans-serif' >10</text>
<text x="348.20" y="642.20" font-size="13" text-anchor="middle" font-weight="normal" fill="#111" font-family='"Liberation Sans", sans-serif' >15</text>
<text x="423.80" y="642.20" font-size="13" text-anchor="middle" font-weight="normal" fill="#111" font-family='"Liberation Sans", sans-serif' >20</text>
<text x="499.40" y="642.20" font-size="13" text-anchor="middle" font-weight="normal" fill="#111" font-family='"Liberation Sans", sans-serif' >25</text>
<text x="575.00" y="642.20" font-size="13" text-anchor="middle" font-weight="normal" fill="#111" font-family='"Liberation Sans", sans-serif' >30</text>
<text x="291.50" y="659.30" font-size="14.3" text-anchor="start" font-weight="normal" fill="#111" font-family='"Liberation Sans", sans-serif' textLength="115.00" lengthAdjust="spacingAndGlyphs" >Frequency (GHz)</text>
<text transform="translate(67.5,484) rotate(-90)" x="0" y="0" font-size="15.5" text-anchor="middle" fill="#111" font-family='"Liberation Sans", sans-serif' textLength="56.5" lengthAdjust="spacingAndGlyphs">Material</text>
<text transform="translate(85.5,482.25) rotate(-90)" x="0" y="0" font-size="14" text-anchor="middle" fill="#111" font-family='"Liberation Sans", sans-serif' textLength="148.5" lengthAdjust="spacingAndGlyphs">Penetration Loss (dB)</text>
<text x="301.00" y="697.00" font-size="24" text-anchor="start" font-weight="normal" fill="#000" font-family='"Liberation Serif", serif' >(b)</text>
<text x="1.30" y="734.30" font-size="22.6" text-anchor="start" font-weight="normal" fill="#000" font-family='"Liberation Serif", serif' >Fig.</text>
<text x="44.50" y="734.30" font-size="22.6" text-anchor="start" font-weight="normal" fill="#000" font-family='"Liberation Serif", serif' >4:</text>
<text x="71.90" y="734.30" font-size="22.6" text-anchor="start" font-weight="normal" fill="#000" font-family='"Liberation Serif", serif' >Penetration</text>
<text x="182.70" y="734.30" font-size="22.6" text-anchor="start" font-weight="normal" fill="#000" font-family='"Liberation Serif", serif' >loss</text>
<text x="226.30" y="734.30" font-size="22.6" text-anchor="start" font-weight="normal" fill="#000" font-family='"Liberation Serif", serif' >of</text>
<text x="253.30" y="734.30" font-size="22.6" text-anchor="start" font-weight="normal" fill="#000" font-family='"Liberation Serif", serif' >various</text>
<text x="329.30" y="734.30" font-size="22.6" text-anchor="start" font-weight="normal" fill="#000" font-family='"Liberation Serif", serif' >materials</text>
<text x="420.70" y="734.30" font-size="22.6" text-anchor="start" font-weight="normal" fill="#000" font-family='"Liberation Serif", serif' >at</text>
<text x="447.30" y="734.30" font-size="22.6" text-anchor="start" font-weight="normal" fill="#000" font-family='"Liberation Serif", serif' >different</text>
<text x="532.70" y="734.30" font-size="22.6" text-anchor="start" font-weight="normal" fill="#000" font-family='"Liberation Serif", serif' >frequencies</text>
</svg>
</body></html>
